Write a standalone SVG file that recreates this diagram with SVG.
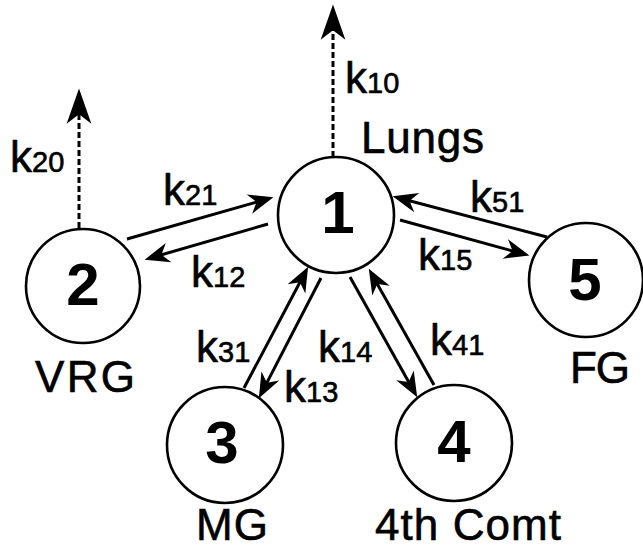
<svg xmlns="http://www.w3.org/2000/svg" width="643" height="550" viewBox="0 0 643 550">
<defs>
<style>
.node circle{fill:#fff;stroke:#000;stroke-width:2.6}
.num{font-family:"Liberation Sans",Arial,sans-serif;font-weight:bold;font-size:60px;text-anchor:middle;fill:#000}
.lbl{font-family:"Liberation Sans",Arial,sans-serif;font-size:44px;fill:#000;stroke:#000;stroke-width:0.6}
.k{font-family:"Liberation Sans",Arial,sans-serif;font-size:44px;fill:#000;stroke:#000;stroke-width:0.6}
.k tspan{font-size:29px}
.flow{stroke:#000;stroke-width:3;fill:none;marker-end:url(#ah)}
.out{stroke:#000;stroke-width:3;fill:none;stroke-dasharray:6 3;marker-end:url(#ahd)}
</style>
<marker id="ah" markerUnits="userSpaceOnUse" markerWidth="30" markerHeight="30" viewBox="-22 -10 24 20" refX="-10" refY="0" orient="auto">
<path d="M0,0 L-20,-8 L-14,0 L-20,8 Z" fill="#000"/>
</marker>
<marker id="ahd" markerUnits="userSpaceOnUse" markerWidth="40" markerHeight="30" viewBox="-32 -12 34 24" refX="-20" refY="0" orient="auto">
<path d="M0,0 L-30,-10.5 L-22,0 L-30,10.5 Z" fill="#000"/>
</marker>
</defs>
<rect width="643" height="550" fill="#fff"/>
<g id="connectors">
<line class="out" x1="333" y1="157" x2="333" y2="28"/>
<line class="out" x1="79" y1="228" x2="79" y2="112"/>
<line class="flow" x1="127" y1="239" x2="261.4" y2="200.7"/>
<line class="flow" x1="268" y1="224" x2="156.6" y2="256.2"/>
<line class="flow" x1="547" y1="237" x2="404.7" y2="199.5"/>
<line class="flow" x1="400" y1="220" x2="517.4" y2="252.3"/>
<line class="flow" x1="244" y1="388" x2="302.3" y2="277.8"/>
<line class="flow" x1="321" y1="278" x2="264.6" y2="387.1"/>
<line class="flow" x1="350" y1="277" x2="411.1" y2="386.3"/>
<line class="flow" x1="434" y1="385" x2="374.9" y2="279.7"/>
<text class="k" x="345" y="93">k<tspan>10</tspan></text>
<text class="k" x="10" y="172">k<tspan>20</tspan></text>
<text class="k" x="163" y="205">k<tspan>21</tspan></text>
<text class="k" x="191" y="287">k<tspan>12</tspan></text>
<text class="k" x="470" y="212">k<tspan>51</tspan></text>
<text class="k" x="418" y="270">k<tspan>15</tspan></text>
<text class="k" x="196" y="362">k<tspan>31</tspan></text>
<text class="k" x="284" y="402">k<tspan>13</tspan></text>
<text class="k" x="318" y="362">k<tspan>14</tspan></text>
<text class="k" x="430" y="355">k<tspan>41</tspan></text>
</g>
<g id="node1" class="node">
<circle cx="336" cy="215" r="58"/>
<text class="num" x="338" y="233">1</text>
<text class="lbl" x="361" y="153" textLength="123" font-size="40">Lungs</text>
</g>
<g id="node2" class="node">
<circle cx="83" cy="286" r="57"/>
<text class="num" x="83" y="305">2</text>
<text class="lbl" x="35" y="392" textLength="100">VRG</text>
</g>
<g id="node3" class="node">
<circle cx="225" cy="445" r="58"/>
<text class="num" x="222" y="463">3</text>
<text class="lbl" x="196" y="540" font-size="42" textLength="72">MG</text>
</g>
<g id="node4" class="node">
<circle cx="454" cy="443" r="58"/>
<text class="num" x="454" y="462">4</text>
<text class="lbl" x="375" y="540" font-size="42" textLength="186">4th Comt</text>
</g>
<g id="node5" class="node">
<circle cx="586" cy="280" r="57"/>
<text class="num" x="585" y="300">5</text>
<text class="lbl" x="570" y="383" font-size="42" textLength="60">FG</text>
</g>
</svg>
